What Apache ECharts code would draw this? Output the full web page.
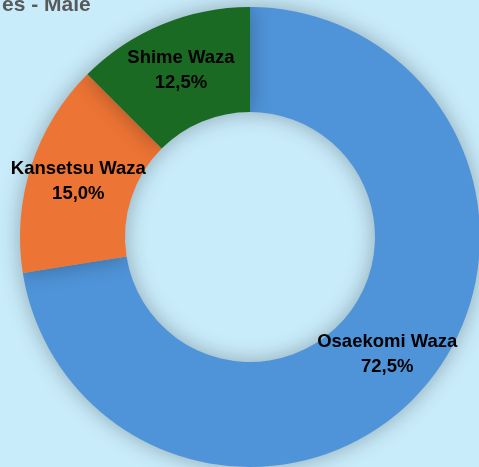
<!DOCTYPE html>
<html><head><meta charset="utf-8">
<script src="https://cdn.jsdelivr.net/npm/echarts@6/dist/echarts.min.js"></script>
<style>html,body{margin:0;padding:0;background:#c9ecfb;}#c{width:479px;height:467px;}</style>
</head><body><div id="c"></div>
<script>
const categories = ['Osaekomi Waza', 'Kansetsu Waza', 'Shime Waza'];
const values = [72.5, 15.0, 12.5];
const colors = ['#4f94d9', '#ec7434', '#1b6a23'];
const titleText = 'es - Male';

const chart = echarts.init(document.getElementById('c'));
chart.setOption({
  backgroundColor: '#c9ecfb',
  animation: false,
  title: {
    text: titleText, left: -3, top: -10,
    textStyle: { color: '#595959', fontSize: 21, fontWeight: 'bold', fontFamily: 'Liberation Sans' }
  },
  series: [{
    type: 'pie',
    center: [250, 237],
    radius: [125, 230],
    startAngle: 90,
    clockwise: true,
    data: categories.map((n, i) => ({ name: n, value: values[i], itemStyle: { color: colors[i] } })),
    itemStyle: { shadowBlur: 22, shadowColor: 'rgba(0,0,0,0.3)' },
    label: {
      position: 'inside',
      formatter: p => p.name + '\n' + p.value.toFixed(1).replace('.', ',') + '%',
      color: '#000', fontSize: 18.5, fontWeight: 'bold', fontFamily: 'Liberation Sans', lineHeight: 25
    },
    labelLine: { show: false },
    emphasis: { disabled: true }
  }]
});
</script></body></html>
